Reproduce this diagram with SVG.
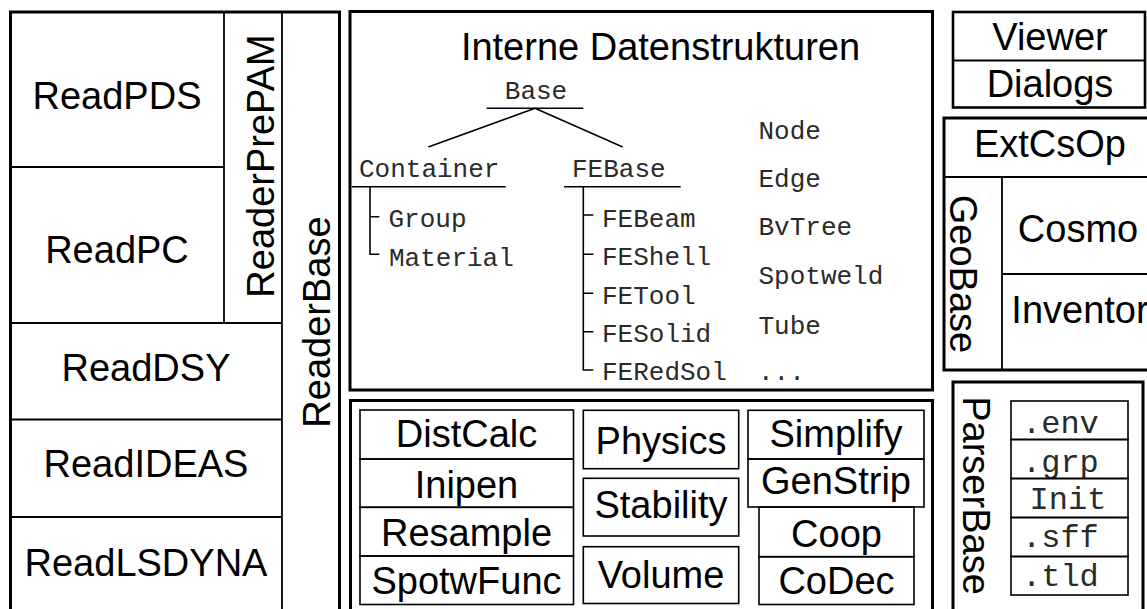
<svg xmlns="http://www.w3.org/2000/svg" width="1147" height="609" viewBox="0 0 1147 609">
  <style>
    .frame { fill: none; stroke: #000; stroke-width: 3; }
    .box { fill: none; stroke: #000; stroke-width: 1.6; }
    .div { fill: none; stroke: #000; stroke-width: 1.8; }
    .lbl { font-family: "Liberation Sans", Arial, sans-serif; font-size: 38px; fill: #000; text-anchor: middle; }
    .code { font-family: "Liberation Mono", "Courier New", monospace; font-size: 26px; fill: #2a2a2a; }
    .code-l { font-family: "Liberation Mono", "Courier New", monospace; font-size: 32px; fill: #2a2a2a; }
    .tree { fill: none; stroke: #000; stroke-width: 1.6; }
  </style>
  <rect width="1147" height="609" fill="#fff"/>

  <!-- Reader column -->
  <g id="reader-base">
    <rect class="frame" x="10.5" y="12" width="329" height="630"/>
    <path class="div" d="M282 12V642"/>
    <text class="lbl" transform="translate(330,322) rotate(-90)">ReaderBase</text>
  </g>
  <g id="reader-prepam">
    <path class="div" d="M224 12V323"/>
    <text class="lbl" transform="translate(274,166) rotate(-90)">ReaderPrePAM</text>
  </g>
  <g id="read-pds">
    <text class="lbl" x="117" y="109">ReadPDS</text>
  </g>
  <g id="read-pc">
    <path class="div" d="M10.5 167H224"/>
    <text class="lbl" x="117" y="263">ReadPC</text>
  </g>
  <g id="read-dsy">
    <path class="div" d="M10.5 323H282"/>
    <text class="lbl" x="146" y="381">ReadDSY</text>
  </g>
  <g id="read-ideas">
    <path class="div" d="M10.5 419.5H282"/>
    <text class="lbl" x="146" y="477">ReadIDEAS</text>
  </g>
  <g id="read-lsdyna">
    <path class="div" d="M10.5 517H282"/>
    <text class="lbl" x="146" y="576">ReadLSDYNA</text>
  </g>

  <!-- Internal data structures -->
  <g id="datenstrukturen">
    <rect class="frame" x="350" y="11.5" width="582.5" height="378.5"/>
    <text class="lbl" x="660.5" y="60">Interne Datenstrukturen</text>
  </g>
  <g id="cls-base">
    <text class="code" x="536" y="99" text-anchor="middle">Base</text>
    <path class="tree" d="M486.7 108.3H583.3"/>
  </g>
  <g id="cls-container">
    <text class="code" x="359" y="177">Container</text>
    <path class="tree" d="M351.7 186.7H505.7"/>
  </g>
  <g id="cls-febase">
    <text class="code" x="572" y="177">FEBase</text>
    <path class="tree" d="M564 186.7H680.7"/>
  </g>
  <g id="cls-group"><text class="code" x="388.5" y="227">Group</text></g>
  <g id="cls-material"><text class="code" x="389" y="266">Material</text></g>
  <g id="cls-febeam"><text class="code" x="602" y="227">FEBeam</text></g>
  <g id="cls-feshell"><text class="code" x="602" y="265">FEShell</text></g>
  <g id="cls-fetool"><text class="code" x="602" y="303.5">FETool</text></g>
  <g id="cls-fesolid"><text class="code" x="602" y="342">FESolid</text></g>
  <g id="cls-feredsol"><text class="code" x="602" y="380">FERedSol</text></g>
  <g id="cls-node"><text class="code" x="758.5" y="138.5">Node</text></g>
  <g id="cls-edge"><text class="code" x="758.5" y="187">Edge</text></g>
  <g id="cls-bvtree"><text class="code" x="758.5" y="235">BvTree</text></g>
  <g id="cls-spotweld"><text class="code" x="758.5" y="283.5">Spotweld</text></g>
  <g id="cls-tube"><text class="code" x="758.5" y="333.5">Tube</text></g>
  <g id="cls-more"><text class="code" x="758" y="380">...</text></g>

  <g id="connectors">
    <path class="tree" d="M535 108.3L428.3 147M535 108.3L622.7 147"/>
    <path class="tree" d="M370 186.7V254.3H379.3M370 216.7H379.3"/>
    <path class="tree" d="M583.3 186.7V370H593.3M583.3 215H593.3M583.3 254.3H593.3M583.3 293.3H593.3M583.3 331.7H593.3"/>
  </g>

  <!-- Algorithm modules -->
  <g id="modules">
    <rect class="frame" x="350.5" y="400.5" width="582" height="230"/>
  </g>
  <g id="distcalc">
    <rect class="box" x="360" y="410" width="213.5" height="49"/>
    <text class="lbl" x="466.5" y="447">DistCalc</text>
  </g>
  <g id="inipen">
    <rect class="box" x="360" y="459" width="213.5" height="48.3"/>
    <text class="lbl" x="466.5" y="497.5">Inipen</text>
  </g>
  <g id="resample">
    <rect class="box" x="360" y="507.3" width="213.5" height="48.7"/>
    <text class="lbl" x="466.5" y="546">Resample</text>
  </g>
  <g id="spotwfunc">
    <rect class="box" x="360" y="556" width="213.5" height="48.5"/>
    <text class="lbl" x="466.5" y="594">SpotwFunc</text>
  </g>
  <g id="physics">
    <rect class="box" x="583.3" y="410.3" width="155.4" height="58.4"/>
    <text class="lbl" x="661" y="453.5">Physics</text>
  </g>
  <g id="stability">
    <rect class="box" x="583.3" y="478.3" width="155.4" height="57.7"/>
    <text class="lbl" x="661" y="517.5">Stability</text>
  </g>
  <g id="volume">
    <rect class="box" x="583.3" y="546.7" width="155.4" height="56.8"/>
    <text class="lbl" x="661" y="588">Volume</text>
  </g>
  <g id="simplify">
    <rect class="box" x="748" y="410.3" width="176" height="48.7"/>
    <text class="lbl" x="836" y="447">Simplify</text>
  </g>
  <g id="genstrip">
    <rect class="box" x="748" y="459" width="176" height="48"/>
    <text class="lbl" x="836" y="494">GenStrip</text>
  </g>
  <g id="coop">
    <rect class="box" x="759" y="507" width="155" height="49.7"/>
    <text class="lbl" x="836.5" y="547">Coop</text>
  </g>
  <g id="codec">
    <rect class="box" x="759" y="556.7" width="155" height="47.8"/>
    <text class="lbl" x="836.5" y="593.5">CoDec</text>
  </g>

  <!-- Viewer / dialogs -->
  <g id="viewer">
    <rect class="frame" x="953" y="12" width="192" height="95.5" style="stroke-width:2.6"/>
    <text class="lbl" x="1050" y="50">Viewer</text>
  </g>
  <g id="dialogs">
    <path class="div" d="M953 60.5H1145"/>
    <text class="lbl" x="1050" y="97">Dialogs</text>
  </g>

  <!-- Geometry -->
  <g id="extcsop">
    <rect class="frame" x="944" y="118" width="240" height="252"/>
    <text class="lbl" x="1050" y="157">ExtCsOp</text>
  </g>
  <g id="geobase">
    <path class="div" d="M944 177H1184M1002 177V370"/>
    <text class="lbl" transform="translate(950,274) rotate(90)">GeoBase</text>
  </g>
  <g id="cosmo">
    <text class="lbl" x="1078" y="242">Cosmo</text>
  </g>
  <g id="inventor">
    <path class="div" d="M1002 274H1184"/>
    <text class="lbl" x="1080" y="323">Inventor</text>
  </g>

  <!-- Parser -->
  <g id="parserbase">
    <rect class="frame" x="953" y="382" width="190" height="250"/>
    <text class="lbl" transform="translate(963,495.5) rotate(90)">ParserBase</text>
  </g>
  <g id="p-env">
    <rect class="box" x="1011" y="401" width="117" height="38.5"/>
    <text class="code-l" x="1022" y="433">.env</text>
  </g>
  <g id="p-grp">
    <rect class="box" x="1011" y="439.5" width="117" height="39"/>
    <text class="code-l" x="1022" y="471.5">.grp</text>
  </g>
  <g id="p-init">
    <rect class="box" x="1011" y="478.5" width="117" height="39"/>
    <text class="code-l" x="1068" y="509" text-anchor="middle">Init</text>
  </g>
  <g id="p-sff">
    <rect class="box" x="1011" y="517.5" width="117" height="39"/>
    <text class="code-l" x="1022" y="547">.sff</text>
  </g>
  <g id="p-tld">
    <rect class="box" x="1011" y="556.5" width="117" height="38.5"/>
    <text class="code-l" x="1022" y="585.5">.tld</text>
  </g>
</svg>
